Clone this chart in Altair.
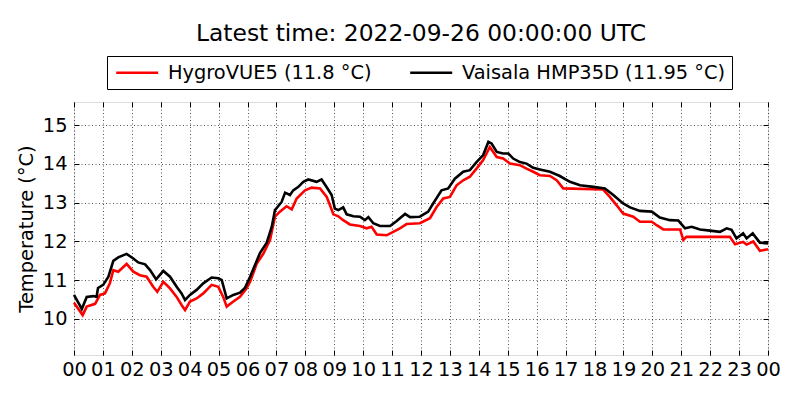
import altair as alt
import pandas as pd

# Series readings (hours since 00 UTC, temperature in °C)
hygro_hours = [0.0, 0.30, 0.44, 0.73, 0.90, 1.07, 1.24, 1.36, 1.53, 1.82, 2.05, 2.28, 2.51, 2.74, 2.88,
               3.09, 3.32, 3.55, 3.72, 3.84, 4.01, 4.24, 4.47, 4.76, 4.99, 5.16, 5.28, 5.51, 5.74, 5.97,
               6.09, 6.32, 6.55, 6.78, 6.95, 7.12, 7.35, 7.53, 7.70, 7.99, 8.22, 8.51, 8.74, 8.85, 8.97,
               9.14, 9.31, 9.54, 9.89, 10.12, 10.29, 10.47, 10.81, 11.04, 11.27, 11.50, 11.96, 12.31,
               12.54, 12.77, 13.0, 13.23, 13.46, 13.69, 13.92, 14.15, 14.38, 14.62, 14.84, 15.08, 15.42,
               15.65, 15.88, 16.11, 16.46, 16.69, 16.92, 18.30, 18.53, 18.76, 18.99, 19.34, 19.57, 19.98,
               20.15, 20.38, 20.96, 21.07, 21.18, 22.68, 22.86, 23.14, 23.26, 23.49, 23.72, 24.0]
hygro_temp = [10.42, 10.1, 10.32, 10.39, 10.62, 10.66, 10.92, 11.26, 11.22, 11.42, 11.22, 11.13, 11.09,
              10.83, 10.7, 10.96, 10.79, 10.57, 10.36, 10.23, 10.45, 10.53, 10.66, 10.88, 10.83, 10.57,
              10.32, 10.45, 10.57, 10.79, 10.96, 11.43, 11.69, 12.04, 12.64, 12.77, 12.91, 12.83, 13.11,
              13.32, 13.39, 13.37, 13.15, 12.94, 12.7, 12.65, 12.55, 12.44, 12.4, 12.34, 12.38, 12.18,
              12.16, 12.25, 12.34, 12.45, 12.47, 12.6, 12.89, 13.11, 13.15, 13.45, 13.58, 13.67, 13.88,
              14.1, 14.44, 14.18, 14.14, 14.01, 13.97, 13.88, 13.8, 13.71, 13.69, 13.58, 13.37, 13.34,
              13.15, 12.94, 12.72, 12.64, 12.51, 12.51, 12.42, 12.31, 12.31, 12.04, 12.12, 12.12, 11.93,
              11.99, 11.92, 12.0, 11.76, 11.8]

hmp_hours = [0.0, 0.27, 0.44, 0.67, 0.78, 0.83, 1.01, 1.19, 1.36, 1.53, 1.82, 2.05, 2.22, 2.46, 2.63,
             2.84, 3.09, 3.32, 3.55, 3.72, 3.84, 4.01, 4.24, 4.47, 4.76, 4.99, 5.11, 5.28, 5.51, 5.74,
             5.91, 6.09, 6.32, 6.43, 6.66, 6.84, 6.95, 7.06, 7.18, 7.30, 7.47, 7.58, 7.76, 7.93, 8.10,
             8.39, 8.56, 8.74, 8.91, 9.02, 9.14, 9.31, 9.43, 9.66, 9.89, 10.06, 10.18, 10.35, 10.58,
             10.93, 11.16, 11.27, 11.45, 11.62, 11.96, 12.25, 12.42, 12.71, 12.94, 13.17, 13.46, 13.69,
             13.92, 14.15, 14.33, 14.44, 14.62, 14.84, 15.02, 15.19, 15.42, 15.65, 15.88, 16.11, 16.46,
             16.80, 17.15, 17.50, 17.96, 18.36, 18.65, 18.99, 19.23, 19.57, 19.98, 20.26, 20.61, 20.90,
             21.13, 21.36, 21.65, 21.99, 22.34, 22.57, 22.74, 22.91, 23.14, 23.26, 23.47, 23.72, 24.0]
hmp_temp = [10.62, 10.26, 10.57, 10.59, 10.57, 10.8, 10.88, 11.09, 11.5, 11.59, 11.68, 11.56, 11.46,
            11.41, 11.26, 11.02, 11.24, 11.09, 10.83, 10.66, 10.49, 10.62, 10.75, 10.92, 11.07, 11.05,
            11.0, 10.53, 10.62, 10.68, 10.8, 11.09, 11.5, 11.7, 11.96, 12.38, 12.81, 12.91, 13.02, 13.26,
            13.2, 13.32, 13.41, 13.54, 13.6, 13.54, 13.6, 13.4, 13.2, 12.85, 12.81, 12.88, 12.7, 12.65,
            12.64, 12.55, 12.63, 12.47, 12.4, 12.4, 12.53, 12.6, 12.71, 12.63, 12.64, 12.77, 12.98,
            13.32, 13.37, 13.62, 13.8, 13.84, 14.05, 14.23, 14.57, 14.53, 14.31, 14.27, 14.27, 14.14,
            14.05, 14.01, 13.9, 13.86, 13.8, 13.69, 13.54, 13.45, 13.41, 13.37, 13.2, 12.98, 12.88,
            12.79, 12.77, 12.62, 12.55, 12.54, 12.34, 12.38, 12.31, 12.28, 12.25, 12.34, 12.3, 12.08,
            12.21, 12.08, 12.21, 11.97, 11.95]

series_names = ["HygroVUE5 (11.8 °C)", "Vaisala HMP35D (11.95 °C)"]
series_colors = ["#ff0000", "#000000"]
hour_ticks = list(range(0, 25))
temp_ticks = [10, 11, 12, 13, 14, 15]
title_text = "Latest time: 2022-09-26 00:00:00 UTC"

df = pd.concat([
    pd.DataFrame({"hour": hygro_hours, "temp": hygro_temp, "series": series_names[0]}),
    pd.DataFrame({"hour": hmp_hours, "temp": hmp_temp, "series": series_names[1]}),
], ignore_index=True)

FONT = "DejaVu Sans"
xscale = alt.Scale(domain=[0, 24], nice=False, zero=False)
yscale = alt.Scale(domain=[9.07, 15.6], nice=False, zero=False)

main = alt.Chart(df).mark_line(strokeWidth=2.6).encode(
    x=alt.X("hour:Q", scale=xscale,
            axis=alt.Axis(values=hour_ticks, labelExpr="format(datum.value % 24, '02d')",
                          title=None, grid=True, ticks=False, tickSize=0, domain=False,
                          labelPadding=5, labelFontSize=19.4, labelFont=FONT, labelColor="black",
                          gridColor="black", gridDash=[1, 2.5], gridWidth=0.8, gridOpacity=0.85,
                          labelOverlap=False, labelFlush=False)),
    y=alt.Y("temp:Q", scale=yscale,
            axis=alt.Axis(values=temp_ticks, title="Temperature (°C)", grid=True, ticks=False,
                          tickSize=0, domain=False, labelPadding=7, labelFontSize=19.4,
                          labelFont=FONT, labelColor="black", titleFont=FONT, titleFontSize=19.4,
                          titleFontWeight="normal", titleColor="black", titlePadding=6,
                          gridColor="black", gridDash=[1, 2.5], gridWidth=0.8, gridOpacity=0.85)),
    color=alt.Color("series:N",
                    scale=alt.Scale(domain=series_names, range=series_colors),
                    legend=alt.Legend(title=None, orient="none", legendX=33, legendY=-46,
                                      direction="horizontal", symbolType="M-1,0H5",
                                      symbolStrokeWidth=2.5, symbolSize=196,
                                      labelFontSize=19.4, labelFont=FONT, labelColor="black",
                                      labelLimit=400, labelOffset=35, columnPadding=32,
                                      padding=6.5, strokeColor="black", fillColor="white",
                                      cornerRadius=0)),
    detail="series:N",
)

def tick_layer(xorient, yorient):
    return alt.Chart(df).mark_line(opacity=0).encode(
        x=alt.X("hour:Q", scale=xscale,
                axis=alt.Axis(orient=xorient, values=hour_ticks, labels=False, title=None,
                              grid=False, domain=False, ticks=True, tickSize=5, offset=-5,
                              tickColor="black", tickWidth=1)),
        y=alt.Y("temp:Q", scale=yscale,
                axis=alt.Axis(orient=yorient, values=temp_ticks, labels=False, title=None,
                              grid=False, domain=False, ticks=True, tickSize=5, offset=-5,
                              tickColor="black", tickWidth=1)),
        detail="series:N",
    )

chart = alt.layer(main, tick_layer("top", "right"), tick_layer("bottom", "left")).resolve_axis(
    x="independent", y="independent"
).properties(
    width=694, height=253,
    title=alt.TitleParams(title_text, fontSize=23.4, font=FONT, fontWeight="normal",
                          color="black", offset=9, anchor="middle"),
    autosize=alt.AutoSizeParams(type="none"),
    padding={"left": 66, "top": 94, "right": 24, "bottom": 30},
).configure_view(
    stroke="black", strokeWidth=1.2
).configure(background="white")

chart.save("out.html", embed_options={"renderer": "svg", "actions": False})
